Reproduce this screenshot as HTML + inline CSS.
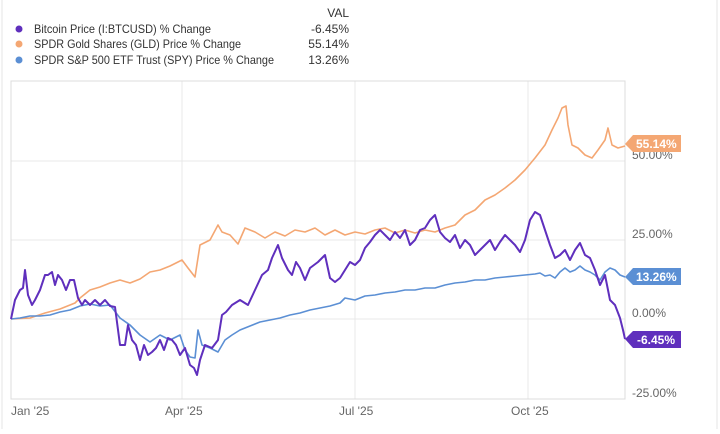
<!DOCTYPE html>
<html><head><meta charset="utf-8"><style>
body{margin:0;background:#fff;font-family:"Liberation Sans",sans-serif;}
</style></head><body>
<svg width="720" height="429" viewBox="0 0 720 429" xmlns="http://www.w3.org/2000/svg" font-family="Liberation Sans, sans-serif">
<rect width="720" height="429" fill="#fff"/>
<line x1="2" y1="0" x2="2" y2="429" stroke="#e6e6e6"/>
<line x1="717" y1="0" x2="717" y2="429" stroke="#e6e6e6"/>
<g font-size="12" fill="#333">
<text x="349" y="17" text-anchor="end">VAL</text>
<circle cx="19" cy="29" r="3.5" fill="#5f2fbd"/><text x="34" y="33" textLength="177" lengthAdjust="spacingAndGlyphs">Bitcoin Price (I:BTCUSD) % Change</text><text x="349" y="33" text-anchor="end">-6.45%</text>
<circle cx="19" cy="44" r="3.5" fill="#f4a773"/><text x="34" y="48" textLength="207" lengthAdjust="spacingAndGlyphs">SPDR Gold Shares (GLD) Price % Change</text><text x="349" y="48" text-anchor="end">55.14%</text>
<circle cx="19" cy="60" r="3.5" fill="#5b8fd4"/><text x="34" y="64" textLength="240" lengthAdjust="spacingAndGlyphs">SPDR S&amp;P 500 ETF Trust (SPY) Price % Change</text><text x="349" y="64" text-anchor="end">13.26%</text>
</g>
<g stroke="#e8e8e8" stroke-width="1">
<line x1="11" y1="161" x2="625" y2="161"/><line x1="11" y1="240" x2="625" y2="240"/><line x1="11" y1="319" x2="625" y2="319"/>
<line x1="182" y1="81" x2="182" y2="399"/><line x1="355" y1="81" x2="355" y2="399"/><line x1="528" y1="81" x2="528" y2="399"/>
</g>
<rect x="11" y="81" width="614" height="318" fill="none" stroke="#dcdcdc"/>
<g font-size="12" fill="#666">
<text x="632" y="159">50.00%</text><text x="632" y="238">25.00%</text><text x="632" y="317">0.00%</text><text x="632" y="397">-25.00%</text>
<text x="11" y="415">Jan '25</text><text x="165" y="415">Apr '25</text><text x="339" y="415">Jul '25</text><text x="511" y="415">Oct '25</text>
</g>
<g fill="none" stroke-width="2" stroke-linejoin="round">
<polyline stroke="#f4a773" stroke-width="1.6" points="11,319 30,318 45,313 60,309 75,303 80,298 90,290 100,287 110,283 120,280 130,283 140,279 150,272 160,270 170,266 182,260 188,268 195,277 200,245 210,240 218,225 222,232 230,235 238,244 245,228 255,232 265,238 275,232 285,236 295,230 305,232 315,228 325,235 335,230 345,235 355,232 365,234 375,230 385,228 395,233 405,230 415,233 425,230 435,232 445,228 455,225 465,215 475,210 485,200 495,195 505,188 515,180 525,170 535,158 545,145 552,130 558,118 562,108 566,106 568,125 572,145 578,148 585,155 592,158 598,150 605,140 608,128 612,145 618,148 625,146"/>
<polyline stroke="#5b8fd4" stroke-width="1.6" points="11,319 20,318 30,316 40,316 50,315 60,312 70,310 80,306 90,304 100,306 110,305 120,318 130,325 140,335 150,342 160,335 170,340 180,335 185,350 190,357 195,358 198,330 202,345 210,348 218,352 225,340 232,335 240,330 250,326 260,322 270,320 280,318 290,315 300,313 310,310 320,308 330,306 340,303 345,298 355,300 365,296 375,295 385,293 395,292 405,290 415,290 425,288 435,288 445,285 455,283 465,282 475,280 485,280 495,278 505,277 515,276 525,275 535,274 540,273 545,276 550,275 555,278 560,272 565,268 570,272 575,270 580,266 585,270 590,272 595,275 600,280 605,272 610,268 615,270 620,275 625,277"/>
<polyline stroke="#5f2fbd" points="11,319 15,300 20,290 23,288 25,270 28,295 32,305 35,300 40,290 45,275 48,275 52,272 55,285 58,275 62,280 66,290 70,280 74,280 78,298 82,305 85,300 90,305 95,300 100,305 105,300 110,306 115,307 120,345 125,345 128,325 132,340 136,345 140,360 144,345 148,355 152,352 156,348 160,340 164,350 168,338 172,340 176,345 180,355 185,348 190,365 194,368 197,375 200,360 205,345 212,348 218,340 222,315 226,312 232,305 240,300 248,305 255,290 262,275 268,270 272,258 278,245 282,258 288,270 292,275 296,262 300,268 305,280 310,268 318,262 325,255 330,278 335,282 340,278 345,270 350,262 355,265 360,260 365,248 370,242 375,235 380,230 385,235 390,240 395,232 400,238 405,230 410,245 415,240 420,230 425,228 430,220 435,215 440,232 445,238 450,242 455,235 460,248 465,240 470,245 475,255 480,250 485,245 490,240 495,250 500,242 505,235 510,240 515,245 520,252 525,240 530,220 535,212 540,215 545,230 550,245 555,258 560,255 565,250 570,260 575,250 580,243 585,255 590,258 595,270 600,285 605,275 610,300 615,305 620,318 623,330 625,339"/>
</g>
<g font-size="12" font-weight="bold" fill="#fff">
<path d="M625,144 L633,135 L681,135 L681,152 L633,152 Z" fill="#f4a773"/><text x="636" y="148">55.14%</text>
<path d="M625,277 L633,268 L681,268 L681,285 L633,285 Z" fill="#5b8fd4"/><text x="636" y="281">13.26%</text>
<path d="M625,339 L633,331 L681,331 L681,348 L633,348 Z" fill="#5f2fbd"/><text x="637" y="344">-6.45%</text>
</g>
</svg>
</body></html>
